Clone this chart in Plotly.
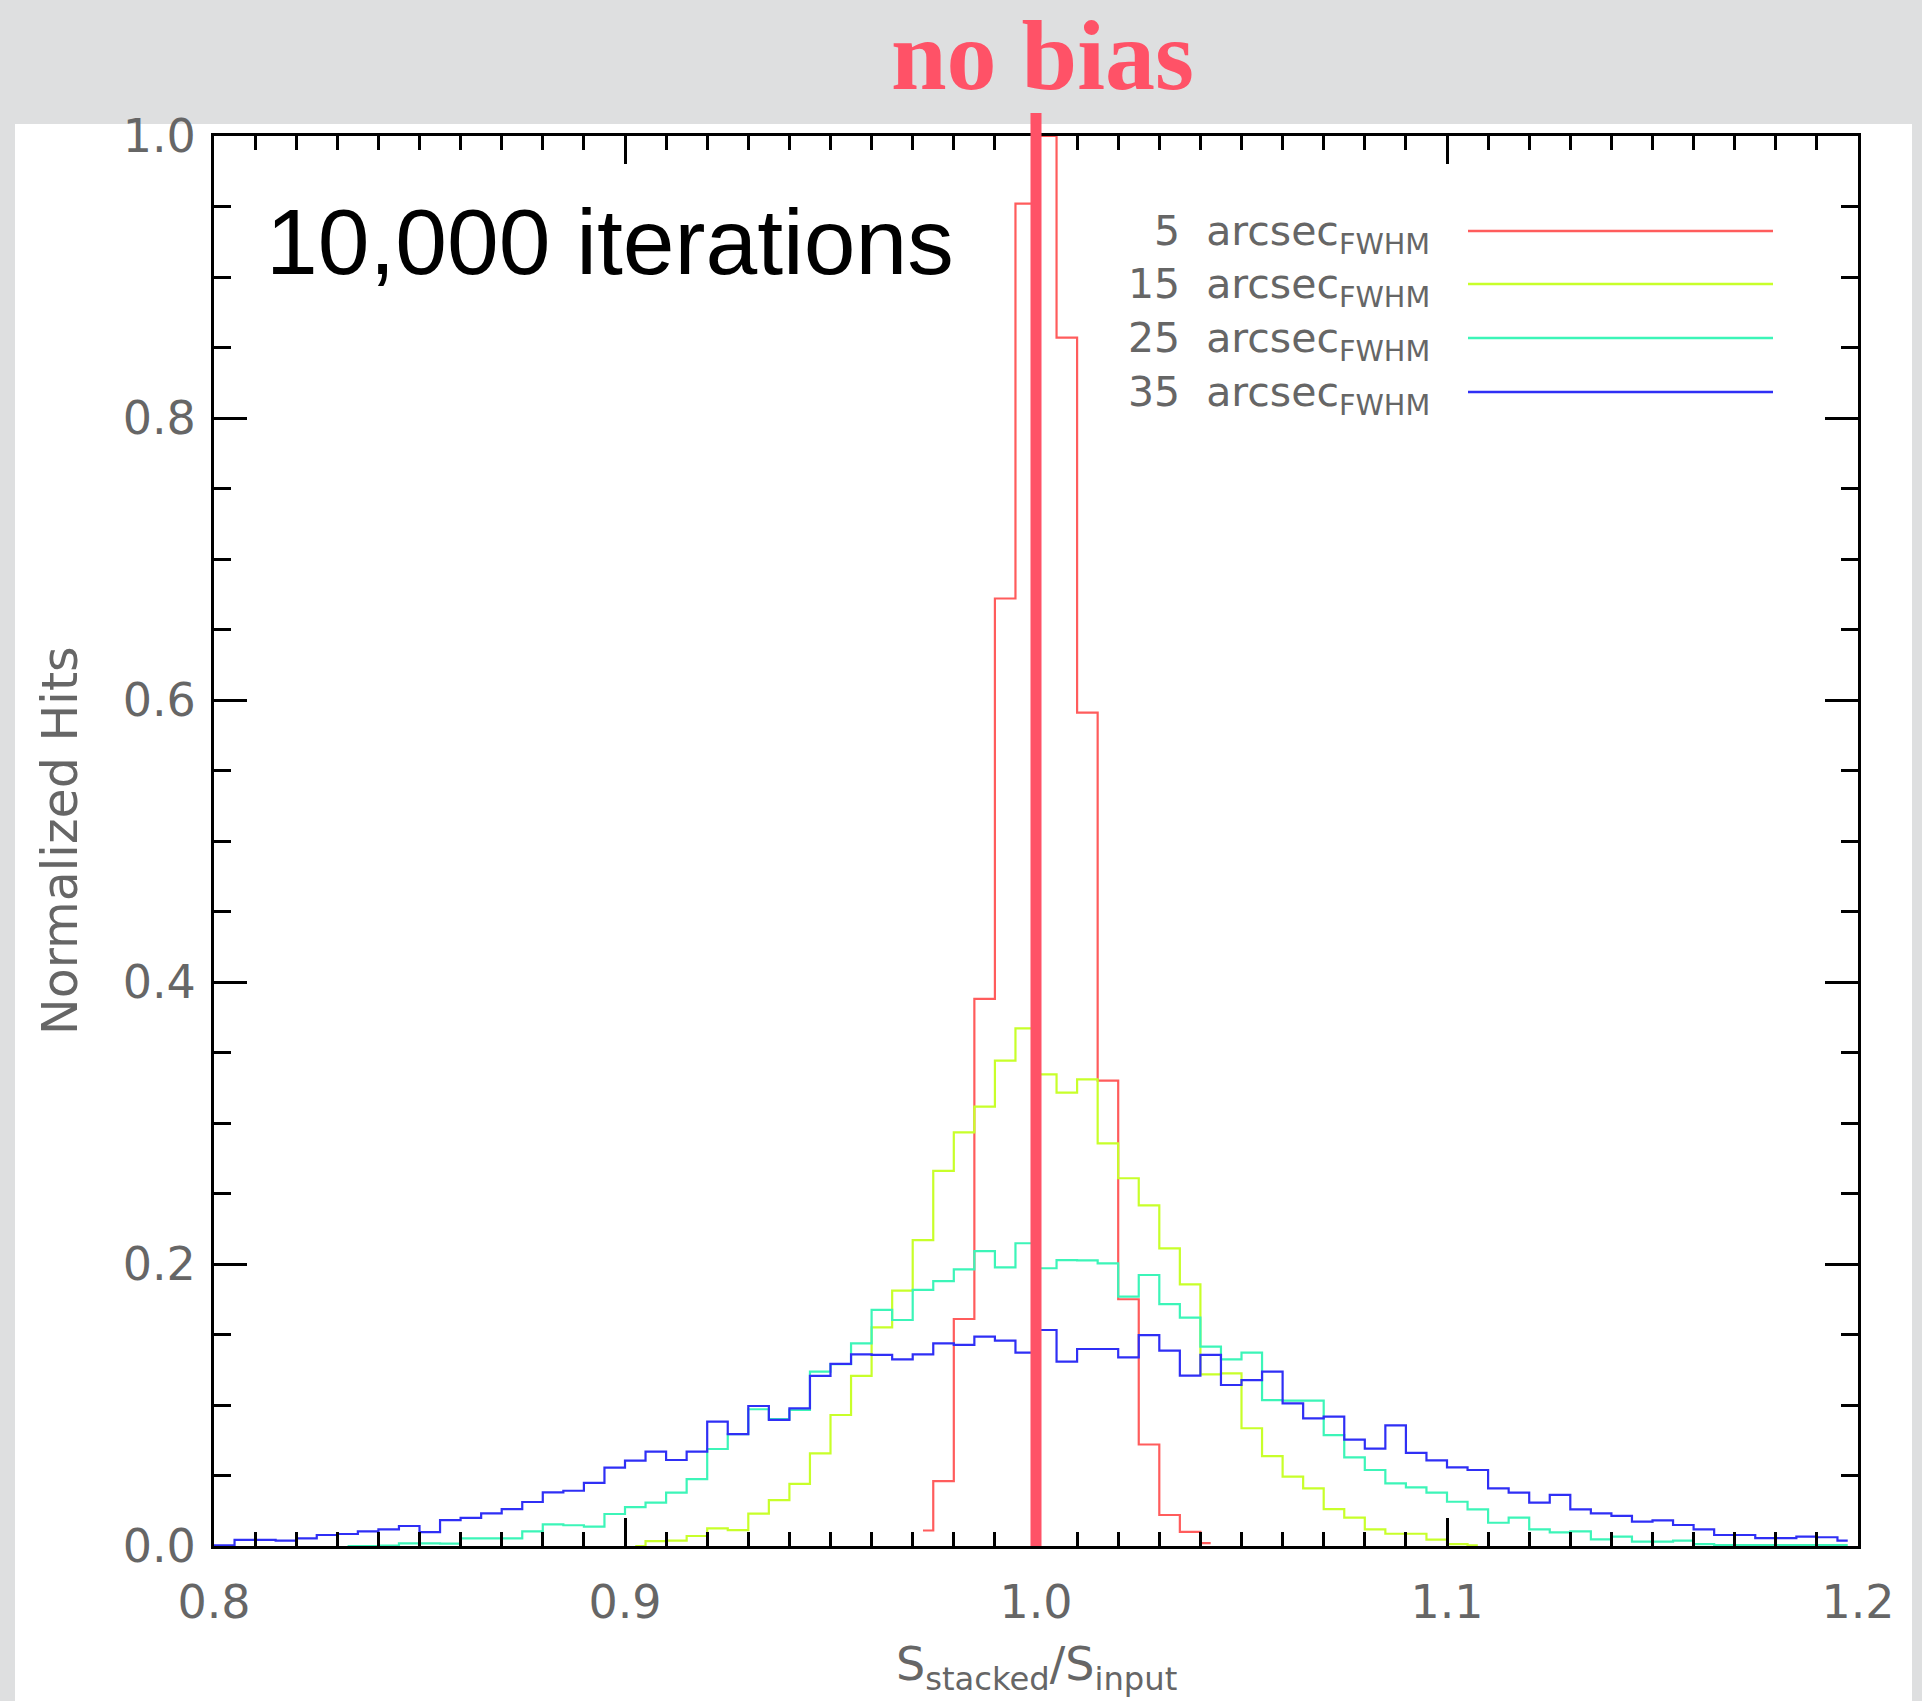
import plotly.graph_objects as go

# ---------------------------------------------------------------------------
# Histogram data: normalized hits per 0.005-wide bin of S_stacked / S_input.
# Each series lists the bin centres starting at *_start.
# ---------------------------------------------------------------------------
BIN_WIDTH = 0.005

fwhm5_start = 0.9725
fwhm5_hits = [0.011, 0.046, 0.161, 0.388, 0.672, 0.952, 1.000, 0.857, 0.591,
              0.330, 0.175, 0.072, 0.022, 0.010, 0.002]

fwhm15_start = 0.9025
fwhm15_hits = [0.000, 0.0035, 0.0038, 0.0071, 0.0125, 0.0113, 0.0230, 0.0326,
               0.0440, 0.0657, 0.0929, 0.1206, 0.1551, 0.1811, 0.2170, 0.2660,
               0.2934, 0.3116, 0.3442, 0.3671, 0.3345, 0.3215, 0.3310, 0.2856,
               0.2608, 0.2416, 0.2111, 0.1856, 0.1217, 0.1225, 0.0835, 0.0638,
               0.0492, 0.0409, 0.0262, 0.0201, 0.0118, 0.0087, 0.0087, 0.0045,
               0.0014, 0.0005]

fwhm25_start = 0.8325
fwhm25_hits = [0.000, 0.000, 0.0003, 0.0019, 0.0019, 0.0017, 0.0054, 0.0054,
               0.0054, 0.0104, 0.0154, 0.0147, 0.0137, 0.0227, 0.0276, 0.0307,
               0.0378, 0.0475, 0.0688, 0.0794, 0.0970, 0.0900, 0.0965, 0.1236,
               0.1290, 0.1437, 0.1674, 0.1603, 0.1816, 0.1879, 0.1962, 0.2092,
               0.1976, 0.2147, 0.1970, 0.2028, 0.2025, 0.2005, 0.1768, 0.1922,
               0.1716, 0.1619, 0.1414, 0.1324, 0.1371, 0.1035, 0.1031, 0.1031,
               0.0787, 0.0629, 0.0539, 0.0444, 0.0416, 0.0378, 0.0314, 0.0260,
               0.0165, 0.0201, 0.0118, 0.0097, 0.0104, 0.0047, 0.0066, 0.0031,
               0.0031, 0.0038, 0.0014, 0.0007, 0.0007, 0.0007, 0.0007, 0.0007,
               0.0007, 0.0007]

fwhm35_start = 0.7975
fwhm35_hits = [0.000, 0.0005, 0.0043, 0.0043, 0.0038, 0.0054, 0.0078, 0.0085,
               0.0104, 0.0118, 0.0142, 0.0099, 0.0184, 0.0199, 0.0232, 0.0262,
               0.0312, 0.0380, 0.0392, 0.0447, 0.0556, 0.0606, 0.0669, 0.0610,
               0.0669, 0.0882, 0.0794, 0.0993, 0.0894, 0.0976, 0.1206, 0.1291,
               0.1359, 0.1355, 0.1324, 0.1359, 0.1437, 0.1426, 0.1485, 0.1456,
               0.1371, 0.1532, 0.1307, 0.1397, 0.1397, 0.1338, 0.1496, 0.1385,
               0.1208, 0.1355, 0.1142, 0.1177, 0.1236, 0.1012, 0.0905, 0.0917,
               0.0755, 0.0690, 0.0855, 0.0660, 0.0607, 0.0558, 0.0539, 0.0409,
               0.0378, 0.0307, 0.0362, 0.0260, 0.0232, 0.0214, 0.0173, 0.0182,
               0.0149, 0.0118, 0.0078, 0.0078, 0.0056, 0.0056, 0.0066, 0.0062,
               0.0038]

series_names = ["5", "15", "25", "35"]
series_starts = [fwhm5_start, fwhm15_start, fwhm25_start, fwhm35_start]
series_hits = [fwhm5_hits, fwhm15_hits, fwhm25_hits, fwhm35_hits]
series_colors = ["#ff5c5c", "#c8ff2a", "#3cf5b8", "#2f2ff5"]

x_ticks = [0.8, 0.9, 1.0, 1.1, 1.2]
x_tick_labels = ["0.8", "0.9", "1.0", "1.1", "1.2"]
y_ticks = [0.0, 0.2, 0.4, 0.6, 0.8, 1.0]
y_tick_labels = ["0.0", "0.2", "0.4", "0.6", "0.8", "1.0"]

no_bias_ratio = 1.0

# ---------------------------------------------------------------------------
# Page geometry
# ---------------------------------------------------------------------------
W, H = 1922, 1701
ML, MR, MT, MB = 214, 64, 136, 155
PW, PH = W - ML - MR, H - MT - MB

AXIS_FONT = "DejaVu Sans"
LABEL_GREY = "#666666"
BIAS_RED = "#ff5267"


def paper_x(xpix):
    return (xpix - ML) / PW


def paper_y(ypix):
    return (H - MB - ypix) / PH


fig = go.Figure()

# Step histograms (bin centres joined with horizontal-vertical-horizontal steps)
for name, start, hits, color in zip(series_names, series_starts, series_hits, series_colors):
    centres = [round(start + i * BIN_WIDTH, 4) for i in range(len(hits))]
    fig.add_trace(go.Scatter(
        x=centres, y=hits, mode="lines", name=f"{name} arcsec FWHM",
        line=dict(color=color, width=2.2, shape="hvh"),
        hoverinfo="skip",
    ))

shapes = []
# white panel behind the plot
shapes.append(dict(type="rect", xref="paper", yref="paper",
                   x0=paper_x(15), x1=paper_x(1912), y0=paper_y(1701), y1=paper_y(124),
                   fillcolor="white", line=dict(width=0), layer="below"))
# "no bias" marker
shapes.append(dict(type="line", xref="x", yref="paper",
                   x0=no_bias_ratio, x1=no_bias_ratio, y0=0, y1=paper_y(113),
                   line=dict(color=BIAS_RED, width=11), layer="above"))

annotations = []
# legend rows: label on the left, line sample on the right
legend_rows_y = [231, 284, 338, 392]
for name, color, row_y in zip(series_names, series_colors, legend_rows_y):
    shapes.append(dict(type="line", xref="paper", yref="paper",
                       x0=paper_x(1468), x1=paper_x(1773),
                       y0=paper_y(row_y), y1=paper_y(row_y),
                       line=dict(color=color, width=2.5)))
    annotations.append(dict(
        xref="paper", yref="paper", x=paper_x(1432), y=paper_y(row_y + 3),
        xanchor="right", yanchor="middle", showarrow=False,
        text=f"{name}\u00a0\u00a0arcsec<sub>FWHM</sub>",
        font=dict(family=AXIS_FONT, size=41, color=LABEL_GREY),
    ))

annotations.append(dict(
    xref="paper", yref="paper", x=paper_x(264), y=paper_y(242),
    xanchor="left", yanchor="middle", showarrow=False,
    text="10,000 iterations",
    font=dict(family="Liberation Sans", size=93, color="black"),
))

annotations.append(dict(
    xref="paper", yref="paper", x=paper_x(1042), y=paper_y(56),
    xanchor="center", yanchor="middle", showarrow=False,
    text="<b>no bias</b>",
    font=dict(family="Liberation Serif", size=100, color=BIAS_RED),
))

annotations.append(dict(
    xref="paper", yref="paper", x=0.5, y=paper_y(1667),
    xanchor="center", yanchor="middle", showarrow=False,
    text="S<sub>stacked</sub>/S<sub>input</sub>",
    font=dict(family=AXIS_FONT, size=46, color=LABEL_GREY),
))

annotations.append(dict(
    xref="paper", yref="paper", x=paper_x(60), y=0.5,
    xanchor="center", yanchor="middle", showarrow=False, textangle=-90,
    text="Normalized Hits",
    font=dict(family=AXIS_FONT, size=49, color=LABEL_GREY),
))

axis_common = dict(
    showgrid=False, zeroline=False, showline=True, linecolor="black", linewidth=3,
    mirror="allticks", ticks="inside", tickcolor="black", tickwidth=2.5,
    tickfont=dict(family=AXIS_FONT, size=46, color=LABEL_GREY),
)

fig.update_layout(
    width=W, height=H,
    margin=dict(l=ML, r=MR, t=MT, b=MB, pad=0),
    paper_bgcolor="#dedfe0", plot_bgcolor="white",
    showlegend=False, hovermode=False,
    shapes=shapes, annotations=annotations,
    xaxis=dict(range=[0.8, 1.2], tickvals=x_ticks, ticktext=x_tick_labels,
               ticklen=28, ticklabelstandoff=14,
               minor=dict(dtick=0.01, tick0=0.8, ticks="inside", ticklen=14,
                          tickwidth=2.5, tickcolor="black"),
               **axis_common),
    yaxis=dict(range=[0.0, 1.0], tickvals=y_ticks, ticktext=y_tick_labels,
               ticklen=33, ticklabelstandoff=6,
               minor=dict(dtick=0.05, tick0=0.0, ticks="inside", ticklen=17,
                          tickwidth=2.5, tickcolor="black"),
               **axis_common),
)

fig.write_html("out.html", config={"displayModeBar": False})
